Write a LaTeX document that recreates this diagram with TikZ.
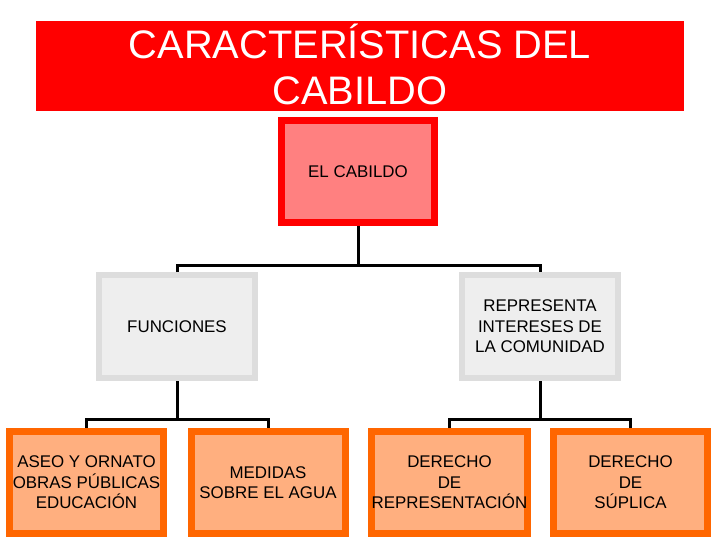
\documentclass[tikz,border=0pt]{standalone}
\usepackage{fontspec}
\setmainfont{Liberation Sans}
\definecolor{titlered}{HTML}{FF0000}
\definecolor{cabfill}{HTML}{FF8080}
\definecolor{grayline}{HTML}{DDDDDD}
\definecolor{grayfill}{HTML}{EEEEEE}
\definecolor{orline}{HTML}{FF6600}
\definecolor{orfill}{HTML}{FFAF7F}
\tikzset{
  box/.style={draw, rectangle, align=center, inner sep=0pt, text=black,
    font=\fontsize{16.9}{20.5}\selectfont},
  cabbox/.style={box, draw=titlered, fill=cabfill, line width=7pt,
    minimum width=153pt, minimum height=102pt},
  graybox/.style={box, draw=grayline, fill=grayfill, line width=6pt,
    minimum width=156pt, minimum height=103pt},
  orbox/.style={box, draw=orline, fill=orfill, line width=7pt,
    minimum width=154pt, minimum height=102pt},
  conn/.style={draw=black, line width=3pt}
}
\begin{document}
\begin{tikzpicture}[x=1pt, y=-1pt]
\useasboundingbox (0,0) rectangle (720,540);
\node[fill=titlered, minimum width=648pt, minimum height=90pt, inner sep=0pt,
  text=white, align=center, font=\fontsize{39.8}{46}\selectfont]
  (title) at (360,66) {};
\node[text=white, align=center, inner sep=0pt, font=\fontsize{39.8}{46}\selectfont]
  (titletext) at (360,64) {CARACTERÍSTICAS DEL\\CABILDO};
\node[cabbox] (cab) at (358,171.5) {EL CABILDO};
\node[graybox] (fun) at (177,326.5) {FUNCIONES};
\node[graybox] (rep) at (540,326.5) {REPRESENTA\\INTERESES DE\\LA COMUNIDAD};
\node[orbox] (b1) at (86.5,482.5) {ASEO Y ORNATO\\OBRAS PÚBLICAS\\EDUCACIÓN};
\node[orbox] (b2) at (268,482.5) {MEDIDAS\\SOBRE EL AGUA};
\node[orbox] (b3) at (449.5,482.5) {DERECHO\\DE\\REPRESENTACIÓN};
\node[orbox] (b4) at (630.5,482.5) {DERECHO\\DE\\SÚPLICA};
\coordinate (j1) at (358,265);
\coordinate (j2) at (177,419);
\coordinate (j3) at (540,419);
\draw[conn] (cab.south) -- (j1);
\draw[conn] (fun.north) |- (j1) -| (rep.north);
\draw[conn] (fun.south) -- (j2);
\draw[conn] (b1.north) |- (j2) -| (b2.north);
\draw[conn] (rep.south) -- (j3);
\draw[conn] (b3.north) |- (j3) -| (b4.north);
\end{tikzpicture}
\end{document}
